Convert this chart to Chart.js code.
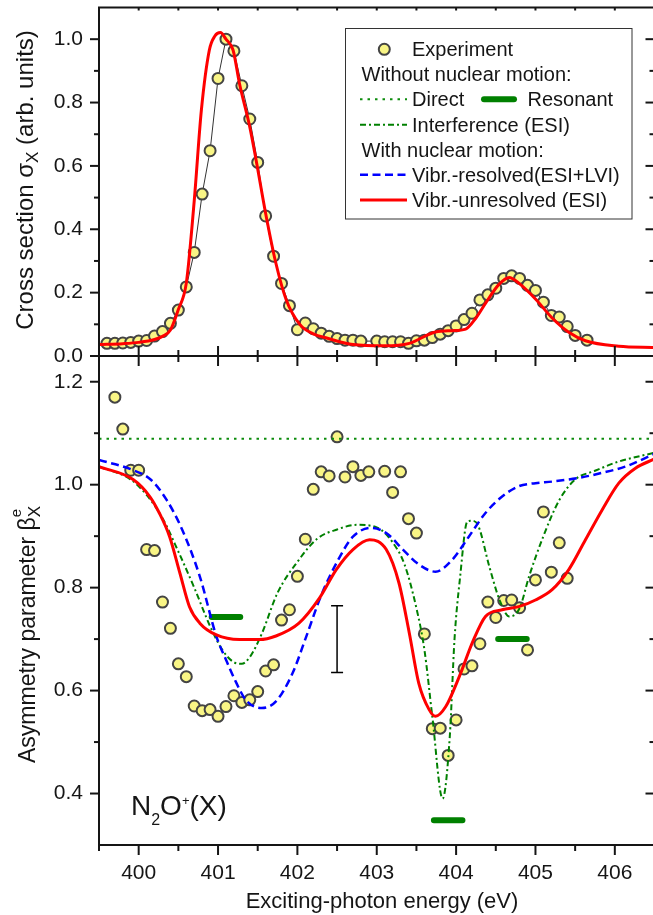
<!DOCTYPE html>
<html><head><meta charset="utf-8">
<script src="https://cdn.jsdelivr.net/npm/chart.js@4.4.1/dist/chart.umd.min.js"></script>
<style>
html,body{margin:0;padding:0;background:#fff;overflow:hidden;width:653px;height:915px;}
#wrap{position:relative;width:653px;height:915px;overflow:hidden;background:#fff;}
canvas{position:absolute;left:0;}
#cA{top:0;z-index:2;}
#cB{top:340px;z-index:1;}
</style></head><body>
<div id="wrap"><canvas id="cA" width="662" height="372"></canvas><canvas id="cB" width="662" height="575"></canvas></div>
<script>
// ---------- axis ticks ----------
const xMajor = [400, 401, 402, 403, 404, 405, 406];
const xMinor = [399.5, 400.5, 401.5, 402.5, 403.5, 404.5, 405.5, 406.5];
const xTickLabels = ['400', '401', '402', '403', '404', '405', '406'];
const yTopMajor = [0, 0.2, 0.4, 0.6, 0.8, 1.0];
const yTopMinor = [0.1, 0.3, 0.5, 0.7, 0.9];
const yTopLabels = ['0.0', '0.2', '0.4', '0.6', '0.8', '1.0'];
const yBotMajor = [0.4, 0.6, 0.8, 1.0, 1.2];
const yBotMinor = [0.5, 0.7, 0.9, 1.1];
const yBotLabels = ['0.4', '0.6', '0.8', '1.0', '1.2'];

// ---------- top panel: cross section ----------
const expTopX = [399.6,399.7,399.8,399.9,400.0,400.1,400.2,400.3,400.4,400.5,400.6,400.7,400.8,400.9,401.0,401.1,401.2,401.3,401.4,401.5,401.6,401.7,401.8,401.9,402.0,402.1,402.2,402.3,402.4,402.5,402.6,402.7,402.8,403.0,403.1,403.2,403.3,403.4,403.5,403.6,403.7,403.8,403.9,404.0,404.1,404.2,404.3,404.4,404.5,404.6,404.7,404.8,404.9,405.0,405.1,405.2,405.3,405.4,405.5,405.65];
const expTopY = [0.040,0.040,0.041,0.043,0.047,0.049,0.063,0.077,0.103,0.145,0.218,0.327,0.511,0.648,0.876,1.000,0.963,0.853,0.748,0.611,0.442,0.315,0.229,0.159,0.083,0.104,0.086,0.072,0.062,0.055,0.050,0.050,0.047,0.047,0.045,0.045,0.045,0.040,0.048,0.050,0.058,0.069,0.080,0.095,0.115,0.135,0.177,0.193,0.214,0.245,0.253,0.245,0.223,0.207,0.170,0.128,0.123,0.093,0.065,0.050];
const unresTopX = [399.5,399.8,400.0,400.2,400.3,400.4,400.5,400.6,400.7,400.79,400.89,400.96,401.03,401.1,401.19,401.27,401.4,401.48,401.6,401.73,401.86,402.03,402.2,402.38,402.7,403.1,403.41,403.74,403.95,404.12,404.25,404.38,404.54,404.67,404.79,405.0,405.21,405.42,405.63,406.05,406.5];
const unresTopY = [0.036,0.039,0.043,0.052,0.062,0.082,0.147,0.23,0.49,0.776,0.965,1.01,1.021,1.0,0.965,0.86,0.723,0.618,0.45,0.292,0.177,0.1,0.07,0.056,0.036,0.032,0.04,0.076,0.08,0.085,0.12,0.17,0.226,0.248,0.23,0.18,0.12,0.075,0.048,0.031,0.027];

// ---------- bottom panel: asymmetry parameter ----------
const expBotX = [399.7,399.8,399.9,400.0,400.1,400.2,400.3,400.4,400.5,400.6,400.7,400.8,400.9,401.0,401.1,401.2,401.3,401.4,401.5,401.6,401.7,401.8,401.9,402.0,402.1,402.2,402.3,402.4,402.5,402.6,402.7,402.8,402.9,403.1,403.2,403.3,403.4,403.5,403.6,403.7,403.8,403.9,404.0,404.1,404.2,404.3,404.4,404.5,404.6,404.7,404.8,404.9,405.0,405.1,405.2,405.3,405.4];
const expBotY = [1.170,1.108,1.028,1.028,0.874,0.872,0.772,0.721,0.652,0.627,0.570,0.561,0.563,0.550,0.569,0.590,0.577,0.582,0.598,0.638,0.650,0.737,0.757,0.822,0.894,0.991,1.025,1.017,1.093,1.015,1.035,1.018,1.025,1.026,0.985,1.025,0.934,0.906,0.710,0.526,0.527,0.474,0.543,0.642,0.648,0.691,0.772,0.742,0.775,0.776,0.761,0.679,0.815,0.947,0.830,0.887,0.818];
const directX = [399.5, 406.5];
const directY = [1.089, 1.089];
const resStartX = [400.92, 403.72, 404.53];
const resEndX = [401.28, 404.08, 404.89];
const resY = [0.743, 0.348, 0.700];
const interfX = [399.5,399.9,400.1,400.3,400.5,400.7,400.9,401.05,401.2,401.3,401.4,401.55,401.75,402.0,402.25,402.5,402.75,403.0,403.2,403.35,403.5,403.6,403.7,403.83,403.92,403.98,404.05,404.14,404.2,404.28,404.42,404.55,404.67,404.8,404.92,405.1,405.3,405.5,405.75,406.05,406.5];
const interfY = [1.035,1.01,0.98,0.935,0.87,0.80,0.725,0.68,0.655,0.652,0.665,0.71,0.79,0.85,0.895,0.913,0.922,0.917,0.888,0.845,0.76,0.68,0.55,0.39,0.51,0.70,0.82,0.928,0.93,0.92,0.84,0.775,0.744,0.76,0.822,0.90,0.97,1.01,1.027,1.045,1.062];
const resolvedX = [399.5,399.9,400.15,400.35,400.55,400.77,400.98,401.1,401.2,401.35,401.55,401.73,401.94,402.1,402.3,402.5,402.7,402.93,403.12,403.33,403.53,403.74,403.95,404.16,404.37,404.58,404.79,405.0,405.21,405.54,405.84,406.13,406.5];
const resolvedY = [1.048,1.03,1.01,0.971,0.912,0.822,0.705,0.66,0.625,0.582,0.566,0.579,0.634,0.70,0.785,0.85,0.899,0.916,0.906,0.874,0.845,0.831,0.854,0.899,0.945,0.977,0.997,1.003,1.006,1.013,1.023,1.035,1.06];
const unresBotX = [399.5,399.93,400.14,400.26,400.39,400.52,400.64,400.77,400.98,401.27,401.52,401.73,402.02,402.28,402.49,402.7,402.91,403.12,403.28,403.41,403.53,403.66,403.74,403.87,404.04,404.21,404.37,404.58,404.79,405.0,405.21,405.42,405.63,405.84,406.05,406.26,406.5];
const unresBotY = [1.035,1.01,0.977,0.945,0.899,0.828,0.763,0.731,0.708,0.699,0.699,0.706,0.731,0.78,0.835,0.874,0.893,0.874,0.809,0.712,0.614,0.563,0.55,0.569,0.627,0.695,0.744,0.757,0.763,0.776,0.796,0.835,0.893,0.951,1.003,1.032,1.05];
const errX = 402.5, errLow = 0.635, errHigh = 0.765;

// ---------- styling ----------
const FONT = '"Liberation Sans", Arial, Helvetica, sans-serif';
const INK = '#151515';
const YELLOW = '#f9f585';
const PTBORDER = '#444444';
const RED = '#ff0000', BLUE = '#0000ff', GREEN = '#008000';
const pts = (xs, ys) => xs.map((x, i) => ({x: x, y: ys[i]}));

function resonantData() {
  const d = [];
  resY.forEach((y, i) => {
    d.push({x: resStartX[i], y: y});
    d.push({x: resEndX[i], y: y});
    d.push({x: resEndX[i] + 0.01, y: null});
  });
  return d;
}

function drawFrameTicks(chart, edges, spec) {
  const ctx = chart.ctx, a = chart.chartArea, xs = chart.scales.x, ys = chart.scales.y;
  ctx.save();
  ctx.strokeStyle = INK; ctx.lineWidth = 2; ctx.lineCap = 'butt';
  ctx.beginPath();
  if (edges.includes('top')) { ctx.moveTo(a.left - 1, a.top); ctx.lineTo(a.right + 1, a.top); }
  if (edges.includes('bottom')) { ctx.moveTo(a.left - 1, a.bottom); ctx.lineTo(a.right + 1, a.bottom); }
  if (edges.includes('left')) { ctx.moveTo(a.left, a.top - 1); ctx.lineTo(a.left, a.bottom + 1); }
  if (edges.includes('right')) { ctx.moveTo(a.right, a.top - 1); ctx.lineTo(a.right, a.bottom + 1); }
  ctx.stroke();
  spec.forEach(t => {
    t.values.forEach(v => {
      ctx.beginPath();
      const inn = t.inn || 0, out = t.out || 0;
      if (t.edge === 'bottom') { const p = xs.getPixelForValue(v); ctx.moveTo(p, a.bottom - inn); ctx.lineTo(p, a.bottom + out); }
      else if (t.edge === 'top') { const p = xs.getPixelForValue(v); ctx.moveTo(p, a.top - out); ctx.lineTo(p, a.top + inn); }
      else if (t.edge === 'left') { const p = ys.getPixelForValue(v); ctx.moveTo(a.left - out, p); ctx.lineTo(a.left + inn, p); }
      else { const p = ys.getPixelForValue(v); ctx.moveTo(a.right - inn, p); ctx.lineTo(a.right + out, p); }
      ctx.stroke();
    });
  });
  ctx.restore();
}

// rotated title with sub/superscript parts
function drawRotated(ctx, parts, xBase, yCenter, yStart) {
  ctx.save();
  let total = 0;
  parts.forEach(p => { ctx.font = p.size + 'px ' + FONT; p.w = ctx.measureText(p.t).width; if (!p.stack) total += p.w; });
  const s0 = yStart !== undefined ? yStart : yCenter + total / 2;
  ctx.translate(xBase, s0);
  ctx.rotate(-Math.PI / 2);
  ctx.fillStyle = INK; ctx.textBaseline = 'alphabetic'; ctx.textAlign = 'left';
  let x = 0, lastX = 0;
  parts.forEach(p => {
    ctx.font = p.size + 'px ' + FONT;
    const px = p.stack ? lastX : x;
    ctx.fillText(p.t, px, p.dy || 0);
    if (!p.stack) { lastX = x; x += p.w; }
  });
  ctx.restore();
}

function legendLine(ctx, x1, x2, y, color, width, dash, cap) {
  ctx.save();
  ctx.strokeStyle = color; ctx.lineWidth = width; ctx.setLineDash(dash || []); ctx.lineCap = cap || 'butt';
  ctx.beginPath(); ctx.moveTo(x1, y); ctx.lineTo(x2, y); ctx.stroke();
  ctx.restore();
}

const topPlugin = {
  id: 'topDeco',
  afterDraw(chart) {
    const ctx = chart.ctx;
    drawFrameTicks(chart, ['top', 'left', 'right', 'bottom'], [
      {edge: 'bottom', values: xMajor, out: 10, inn: 10},
      {edge: 'bottom', values: xMinor, out: 6, inn: 6},
      {edge: 'top', values: xMajor, inn: 3},
      {edge: 'top', values: xMinor, inn: 3},
      {edge: 'left', values: yTopMajor, out: 9},
      {edge: 'left', values: yTopMinor, out: 5},
      {edge: 'right', values: yTopMajor, inn: 9},
      {edge: 'right', values: yTopMinor, inn: 5}
    ]);
    // y title
    drawRotated(ctx, [
      {t: 'Cross section \u03C3', size: 24},
      {t: 'X', size: 17, dy: 5},
      {t: ' (arb. units)', size: 24}
    ], 33, 180);
    // legend
    ctx.save();
    ctx.fillStyle = '#fff'; ctx.fillRect(345, 28, 287, 191);
    ctx.strokeStyle = '#333'; ctx.lineWidth = 1; ctx.strokeRect(345.5, 28.5, 286.5, 190.5);
    ctx.beginPath(); ctx.arc(384.3, 49.3, 5.5, 0, Math.PI * 2);
    ctx.fillStyle = YELLOW; ctx.fill(); ctx.lineWidth = 2; ctx.strokeStyle = PTBORDER; ctx.stroke();
    legendLine(ctx, 360, 407, 99.3, '#0c8c0c', 2, [2.5, 5]);
    legendLine(ctx, 484, 514, 99.3, GREEN, 6, [], 'round');
    legendLine(ctx, 360, 407, 124.7, GREEN, 2, [6, 3, 2, 3]);
    legendLine(ctx, 360, 407, 174.7, BLUE, 2.5, [8, 4.5]);
    legendLine(ctx, 360, 407, 200, RED, 3, []);
    ctx.fillStyle = INK; ctx.font = '20px ' + FONT; ctx.textBaseline = 'alphabetic'; ctx.textAlign = 'left';
    ctx.fillText('Experiment', 412, 56);
    ctx.fillText('Without nuclear motion:', 361.5, 81);
    ctx.fillText('Direct', 412, 106.3);
    ctx.fillText('Resonant', 527.5, 106.3);
    ctx.fillText('Interference (ESI)', 412, 131.7);
    ctx.fillText('With nuclear motion:', 361.5, 156.7);
    ctx.fillText('Vibr.-resolved(ESI+LVI)', 412, 181.7);
    ctx.fillText('Vibr.-unresolved (ESI)', 412, 207);
    ctx.restore();
  }
};

const botPlugin = {
  id: 'botDeco',
  afterDraw(chart) {
    const ctx = chart.ctx;
    drawFrameTicks(chart, ['left', 'right', 'bottom'], [
      {edge: 'bottom', values: xMajor, out: 10},
      {edge: 'bottom', values: xMinor, out: 6},
      {edge: 'left', values: yBotMajor, out: 9},
      {edge: 'left', values: yBotMinor, out: 5},
      {edge: 'right', values: yBotMajor, inn: 9},
      {edge: 'right', values: yBotMinor, inn: 5}
    ]);
    drawRotated(ctx, [
      {t: 'Asymmetry parameter \u03B2', size: 23},
      {t: 'X', size: 17, dy: 5},
      {t: 'e', size: 15, dy: -14, stack: true}
    ], 35, 0, 423);
    ctx.save();
    ctx.fillStyle = INK; ctx.textBaseline = 'alphabetic'; ctx.textAlign = 'center';
    ctx.font = '22px ' + FONT;
    ctx.fillText('Exciting-photon energy (eV)', 382, 568);
    // species label
    ctx.textAlign = 'left';
    let x = 131;
    ctx.font = '28px ' + FONT; ctx.fillText('N', x, 475); x += ctx.measureText('N').width;
    ctx.font = '16px ' + FONT; ctx.fillText('2', x, 485); x += ctx.measureText('2').width;
    ctx.font = '28px ' + FONT; ctx.fillText('O', x, 475); x += ctx.measureText('O').width;
    ctx.font = '13px ' + FONT; ctx.fillText('+', x, 465); x += ctx.measureText('+').width;
    ctx.font = '28px ' + FONT; ctx.fillText('(X)', x, 475);
    ctx.restore();
  }
};

function yScale(min, max, ticks, labels) {
  return {
    type: 'linear', min: min, max: max,
    grid: {display: false, drawTicks: false}, border: {display: false},
    ticks: {font: {family: FONT, size: 21}, color: INK, padding: 16, autoSkip: false,
      callback: (v, i) => labels[i]},
    afterBuildTicks: s => { s.ticks = ticks.map(v => ({value: v})); },
    afterFit: s => { s.width = 99; s.paddingTop = 0; s.paddingBottom = 0; s.paddingLeft = 0; s.paddingRight = 0; }
  };
}
function xScale(showLabels, height) {
  return {
    type: 'linear', min: 399.5, max: 406.5,
    grid: {display: false, drawTicks: false}, border: {display: false},
    ticks: {display: showLabels, font: {family: FONT, size: 21}, color: INK, padding: 16, autoSkip: false, maxRotation: 0,
      callback: (v, i) => xTickLabels[i]},
    afterBuildTicks: s => { s.ticks = xMajor.map(v => ({value: v})); },
    afterFit: s => { s.height = height; s.paddingLeft = 0; s.paddingRight = 0; s.paddingTop = 0; s.paddingBottom = 0; }
  };
}

const common = {
  responsive: false, animation: false, devicePixelRatio: 1,
  plugins: {legend: {display: false}, tooltip: {enabled: false}},
  events: []
};

new Chart(document.getElementById('cA'), {
  type: 'scatter',
  data: {datasets: [
    {label: 'Vibr.-unresolved (ESI)', data: pts(unresTopX, unresTopY), showLine: true, borderColor: RED, borderWidth: 3,
      pointRadius: 0, cubicInterpolationMode: 'monotone', order: 1},
    {label: 'Experiment', data: pts(expTopX, expTopY), showLine: true, borderColor: '#333', borderWidth: 1,
      pointRadius: 5.5, pointBackgroundColor: YELLOW, pointBorderColor: PTBORDER, pointBorderWidth: 2, order: 2}
  ]},
  options: Object.assign({}, common, {
    layout: {padding: {left: 0, right: 6, top: 7, bottom: 0}},
    scales: {x: xScale(false, 16), y: yScale(0, 1.1, yTopMajor, yTopLabels)}
  }),
  plugins: [topPlugin]
});

new Chart(document.getElementById('cB'), {
  type: 'scatter',
  data: {datasets: [
    {label: 'Vibr.-unresolved (ESI)', data: pts(unresBotX, unresBotY), showLine: true, borderColor: RED, borderWidth: 3,
      pointRadius: 0, cubicInterpolationMode: 'monotone', order: 1},
    {label: 'Vibr.-resolved(ESI+LVI)', data: pts(resolvedX, resolvedY), showLine: true, borderColor: BLUE, borderWidth: 2.5,
      borderDash: [8, 4.5], pointRadius: 0, cubicInterpolationMode: 'monotone', order: 2},
    {label: 'Interference (ESI)', data: pts(interfX, interfY), showLine: true, borderColor: GREEN, borderWidth: 2,
      borderDash: [6, 3, 2, 3], pointRadius: 0, cubicInterpolationMode: 'monotone', order: 3},
    {label: 'Direct', data: pts(directX, directY), showLine: true, borderColor: '#0c8c0c', borderWidth: 2,
      borderDash: [2.5, 5], pointRadius: 0, order: 4},
    {label: 'Resonant', data: resonantData(), showLine: true, spanGaps: false, borderColor: GREEN, borderWidth: 6,
      borderCapStyle: 'round', pointRadius: 0, order: 5},
    {label: 'error', data: [{x: errX, y: errHigh}, {x: errX, y: errLow}], showLine: true, borderColor: '#000', borderWidth: 1.5,
      pointStyle: 'line', pointRadius: 6, pointBorderColor: '#000', pointBorderWidth: 1.5, order: 6},
    {label: 'Experiment', data: pts(expBotX, expBotY), showLine: false,
      pointRadius: 5.5, pointBackgroundColor: YELLOW, pointBorderColor: PTBORDER, pointBorderWidth: 2, order: 10}
  ]},
  options: Object.assign({}, common, {
    layout: {padding: {left: 0, right: 6, top: 16, bottom: 0}},
    scales: {x: xScale(true, 70), y: yScale(0.3, 1.25, yBotMajor, yBotLabels)}
  }),
  plugins: [botPlugin]
});
</script>
</body></html>
